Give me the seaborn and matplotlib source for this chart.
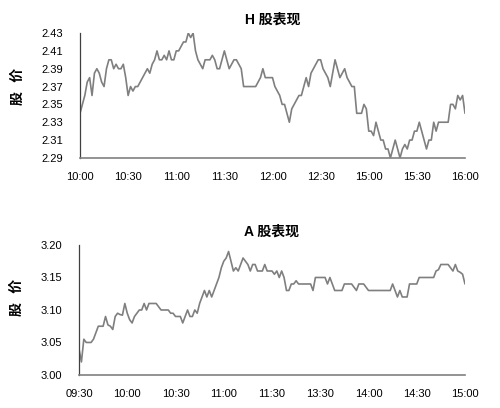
import numpy as np
import pandas as pd
import seaborn as sns
import matplotlib.pyplot as plt

# H shares, one reading every 1.5 minutes (trading time only)
h_price = [2.34, 2.35, 2.36, 2.375, 2.38, 2.36, 2.385, 2.39, 2.385, 2.375,
           2.37, 2.39, 2.40, 2.40, 2.39, 2.395, 2.39, 2.39, 2.395, 2.38,
           2.36, 2.37, 2.365, 2.37, 2.37, 2.375, 2.38, 2.385, 2.39, 2.385,
           2.395, 2.40, 2.41, 2.40, 2.40, 2.405, 2.40, 2.41, 2.40, 2.40,
           2.41, 2.41, 2.415, 2.42, 2.42, 2.43, 2.425, 2.43, 2.41, 2.40,
           2.395, 2.39, 2.40, 2.40, 2.40, 2.405, 2.40, 2.39, 2.39, 2.40,
           2.41, 2.40, 2.39, 2.395, 2.40, 2.40, 2.395, 2.39, 2.37, 2.37,
           2.37, 2.37, 2.37, 2.37, 2.375, 2.38, 2.39, 2.38, 2.38, 2.38,
           2.38, 2.37, 2.365, 2.36, 2.35, 2.35, 2.34, 2.33, 2.345, 2.35,
           2.355, 2.36, 2.36, 2.37, 2.38, 2.37, 2.385, 2.39, 2.395, 2.40,
           2.40, 2.39, 2.385, 2.38, 2.37, 2.385, 2.40, 2.39, 2.38, 2.385,
           2.39, 2.38, 2.375, 2.37, 2.37, 2.34, 2.34, 2.34, 2.35, 2.345,
           2.32, 2.32, 2.315, 2.33, 2.32, 2.31, 2.31, 2.30, 2.30, 2.29,
           2.30, 2.31, 2.30, 2.29, 2.30, 2.305, 2.30, 2.31, 2.31, 2.32,
           2.32, 2.33, 2.32, 2.31, 2.30, 2.31, 2.31, 2.33, 2.32, 2.33,
           2.33, 2.33, 2.33, 2.33, 2.35, 2.35, 2.345, 2.36, 2.355, 2.36,
           2.34]
h_ticks = ["10:00", "10:30", "11:00", "11:30", "12:00", "12:30", "15:00", "15:30", "16:00"]

# A shares
a_price = [3.04, 3.02, 3.055, 3.05, 3.05, 3.05, 3.055, 3.065, 3.075, 3.075,
           3.075, 3.09, 3.077, 3.075, 3.07, 3.09, 3.095, 3.093, 3.092, 3.11,
           3.095, 3.085, 3.08, 3.09, 3.095, 3.10, 3.10, 3.11, 3.10, 3.11,
           3.11, 3.11, 3.11, 3.105, 3.10, 3.10, 3.10, 3.10, 3.095, 3.095,
           3.09, 3.09, 3.09, 3.08, 3.09, 3.10, 3.09, 3.09, 3.10, 3.095,
           3.11, 3.12, 3.13, 3.12, 3.13, 3.12, 3.13, 3.14, 3.15, 3.165,
           3.175, 3.18, 3.19, 3.175, 3.16, 3.165, 3.16, 3.17, 3.18, 3.175,
           3.17, 3.16, 3.17, 3.17, 3.16, 3.16, 3.16, 3.17, 3.16, 3.16,
           3.16, 3.155, 3.16, 3.15, 3.16, 3.15, 3.13, 3.13, 3.14, 3.14,
           3.145, 3.14, 3.14, 3.14, 3.14, 3.14, 3.14, 3.13, 3.15, 3.15,
           3.15, 3.15, 3.15, 3.14, 3.15, 3.14, 3.13, 3.13, 3.13, 3.13,
           3.14, 3.14, 3.14, 3.14, 3.135, 3.13, 3.14, 3.14, 3.14, 3.135,
           3.13, 3.13, 3.13, 3.13, 3.13, 3.13, 3.13, 3.13, 3.13, 3.13,
           3.14, 3.13, 3.12, 3.13, 3.12, 3.12, 3.12, 3.14, 3.14, 3.14,
           3.14, 3.15, 3.15, 3.15, 3.15, 3.15, 3.15, 3.15, 3.16, 3.162,
           3.17, 3.17, 3.17, 3.17, 3.165, 3.16, 3.17, 3.16, 3.158, 3.155,
           3.14]
a_ticks = ["09:30", "10:00", "10:30", "11:00", "11:30", "13:30", "14:00", "14:30", "15:00"]

sns.set_style("white")
plt.rcParams['font.family'] = ['Liberation Sans', 'Noto Sans CJK SC', 'DejaVu Sans']
plt.rcParams['text.color'] = 'black'
plt.rcParams['xtick.color'] = 'black'
plt.rcParams['ytick.color'] = 'black'

fig = plt.figure(figsize=(5, 4.08), dpi=100)
ax1 = fig.add_axes([0.16, 0.613, 0.77, 0.306])
ax2 = fig.add_axes([0.158, 0.081, 0.772, 0.3185])

cjk = ['Noto Sans CJK SC', 'DejaVu Sans']


def draw(ax, prices, ticks, title, ylim, ystep, fmt, ylab_y):
    df = pd.DataFrame({'t': np.arange(len(prices)), 'price': prices})
    sns.lineplot(data=df, x='t', y='price', ax=ax, color='#7f7f7f', linewidth=1.2)
    n = len(prices) - 1
    ax.set_xlim(0, n)
    ax.set_ylim(*ylim)
    ax.set_xticks(np.linspace(0, n, len(ticks)))
    ax.set_xticklabels(ticks)
    yt = np.arange(ylim[0], ylim[1] + ystep / 2, ystep)
    ax.set_yticks(yt)
    ax.set_yticklabels([fmt.format(v) for v in yt])
    ax.tick_params(labelsize=8, length=0)
    ax.tick_params(axis='x', pad=10)
    ax.tick_params(axis='y', pad=12)
    ax.set_xlabel('')
    ax.set_ylabel('股   价', family=cjk, fontweight='bold', fontsize=10, color='black')
    ax.yaxis.set_label_coords(-0.142, ylab_y)
    ax.set_title(title, family=['Liberation Sans'] + cjk, fontweight='bold', fontsize=10, pad=7)
    for s in ['top', 'right']:
        ax.spines[s].set_visible(False)
    ax.spines['left'].set_color('#404040')
    ax.spines['bottom'].set_color('#808080')
    ax.spines['left'].set_linewidth(0.9)
    ax.spines['bottom'].set_linewidth(1.2)


draw(ax1, h_price, h_ticks, 'H 股表现', (2.29, 2.43), 0.02, '{:.2f}', 0.57)
draw(ax2, a_price, a_ticks, 'A 股表现', (3.00, 3.20), 0.05, '{:.2f}', 0.6)

fig.savefig('out.png', dpi=100)
